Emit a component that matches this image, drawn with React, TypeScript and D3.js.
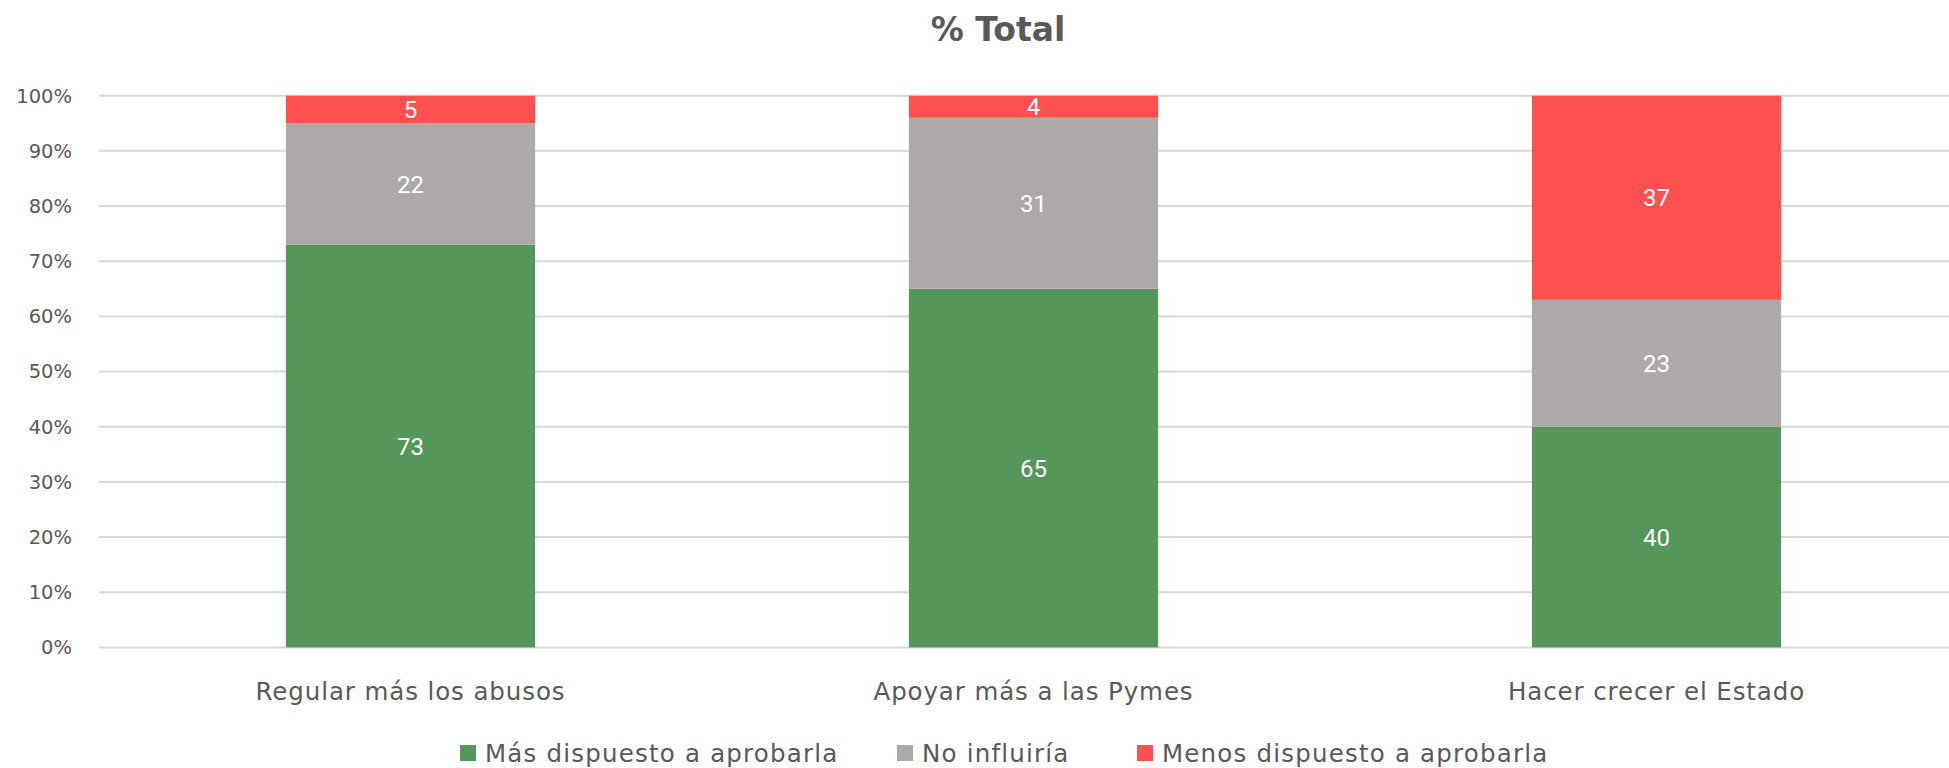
import React from "react";
import * as d3 from "d3";

const categories = ["Regular más los abusos", "Apoyar más a las Pymes", "Hacer crecer el Estado"];
const seriesNames = ["Más dispuesto a aprobarla", "No influiría", "Menos dispuesto a aprobarla"];
const masDispuesto = [73, 65, 40];
const noInfluiria = [22, 31, 23];
const menosDispuesto = [5, 4, 37];
const yTicks = [0, 10, 20, 30, 40, 50, 60, 70, 80, 90, 100];
const colors = ["#55975A", "#ADA9A8", "#FF5050"];

const W = 1949;
const H = 768;
const AXIS_FONT = "'DejaVu Sans', sans-serif";

export default function App() {
  const x = d3.scaleBand<string>().domain(categories).range([99, 1968]).paddingInner(0.6).paddingOuter(0.3);
  const y = d3.scaleLinear().domain([0, 100]).range([647.4, 95.7]);
  const series = [masDispuesto, noInfluiria, menosDispuesto];
  const rows = categories.map((c, i) => {
    const r: any = { cat: c };
    seriesNames.forEach((s, j) => (r[s] = series[j][i]));
    return r;
  });
  const stacked = d3.stack<any>().keys(seriesNames)(rows);

  const legendX = [460, 897, 1137];

  return (
    <svg width={W} height={H} style={{ position: "absolute", left: 0, top: 0, background: "#fff" }}>
      <text x={998} y={41} textAnchor="middle" fontFamily={AXIS_FONT} fontWeight="bold" fontSize={33} fill="#595959">
        % Total
      </text>
      {yTicks.map((t) => (
        <g key={t}>
          <line x1={99} x2={W} y1={y(t)} y2={y(t)} stroke="#D9D9D9" strokeWidth={2} />
          <text x={72} y={y(t)} dy="0.35em" textAnchor="end" fontFamily={AXIS_FONT} fontSize={19.5} fill="#595959">
            {t}%
          </text>
        </g>
      ))}
      {stacked.map((layer, j) => (
        <g key={layer.key}>
          {layer.map((d, i) => (
            <g key={i}>
              <rect x={x(categories[i])} y={y(d[1])} width={x.bandwidth()} height={y(d[0]) - y(d[1])} fill={colors[j]} />
              <text
                x={(x(categories[i]) as number) + x.bandwidth() / 2}
                y={(y(d[0]) + y(d[1])) / 2}
                dy="0.36em"
                textAnchor="middle"
                fontFamily="Roboto, sans-serif"
                fontSize={24}
                fill="#FFFFFF"
              >
                {series[j][i]}
              </text>
            </g>
          ))}
        </g>
      ))}
      {categories.map((c) => (
        <text key={c} x={(x(c) as number) + x.bandwidth() / 2} y={700} textAnchor="middle" fontFamily={AXIS_FONT} fontSize={24.5} letterSpacing={0.9} fill="#595959">
          {c}
        </text>
      ))}
      {seriesNames.map((s, j) => (
        <g key={s}>
          <rect x={legendX[j]} y={745} width={16} height={16} fill={colors[j]} />
          <text x={legendX[j] + 25} y={753} dy="0.36em" fontFamily={AXIS_FONT} fontSize={24.5} letterSpacing={1.2} fill="#595959">
            {s}
          </text>
        </g>
      ))}
    </svg>
  );
}
